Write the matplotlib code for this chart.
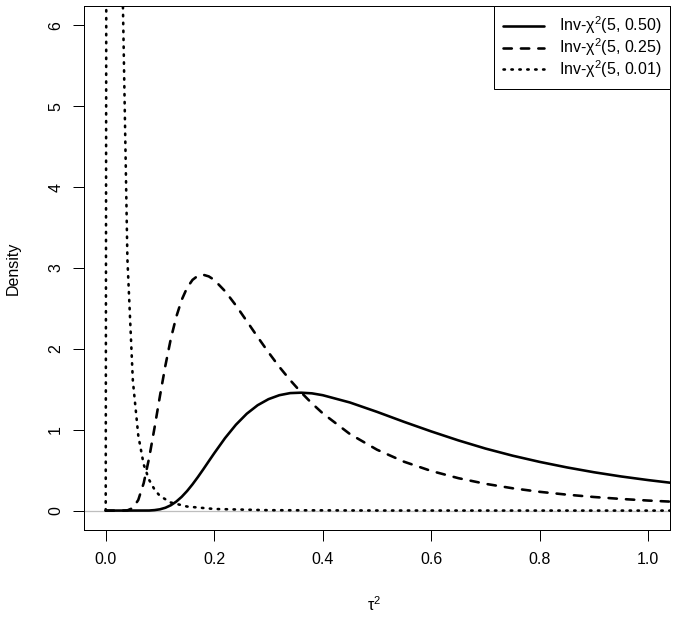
import matplotlib
matplotlib.use("Agg")
import matplotlib.pyplot as plt

plt.rcParams['font.family'] = ['Liberation Sans', 'DejaVu Sans']
plt.rcParams['mathtext.fontset'] = 'custom'
plt.rcParams['mathtext.rm'] = 'Liberation Sans'
plt.rcParams['mathtext.it'] = 'Liberation Sans:italic'
plt.rcParams['mathtext.bf'] = 'Liberation Sans:bold'

# values
x_050 = [0.00, 0.08, 0.09, 0.10, 0.11, 0.12, 0.13, 0.14, 0.15, 0.16, 0.17, 0.18,
         0.19, 0.20, 0.22, 0.24, 0.26, 0.28, 0.30, 0.32, 0.34, 0.36, 0.38, 0.40,
         0.45, 0.50, 0.55, 0.60, 0.65, 0.70, 0.75, 0.80, 0.85, 0.90, 0.95, 1.00, 1.05]
y_050 = [0.000, 0.001, 0.006, 0.016, 0.035, 0.066, 0.111, 0.170, 0.242, 0.325, 0.416, 0.512,
         0.611, 0.709, 0.897, 1.062, 1.198, 1.303, 1.378, 1.427, 1.453, 1.458, 1.450, 1.427,
         1.337, 1.221, 1.097, 0.979, 0.868, 0.767, 0.679, 0.602, 0.534, 0.474, 0.422, 0.377, 0.337]

x_025 = [0.00, 0.03, 0.04, 0.05, 0.06, 0.07, 0.08, 0.09, 0.10, 0.11, 0.12, 0.13, 0.14,
         0.15, 0.16, 0.17, 0.18, 0.19, 0.20, 0.22, 0.24, 0.26, 0.28, 0.30, 0.32, 0.34,
         0.36, 0.38, 0.40, 0.45, 0.50, 0.55, 0.60, 0.65, 0.70, 0.75, 0.80, 0.85, 0.90,
         0.95, 1.00, 1.05]
y_025 = [0.000, 0.000, 0.003, 0.031, 0.131, 0.339, 0.649, 1.025, 1.418, 1.793, 2.124, 2.395, 2.605,
         2.756, 2.853, 2.905, 2.916, 2.896, 2.853, 2.713, 2.537, 2.343, 2.147, 1.957, 1.777, 1.613,
         1.463, 1.326, 1.203, 0.947, 0.753, 0.604, 0.490, 0.401, 0.331, 0.276, 0.232, 0.197, 0.168,
         0.144, 0.124, 0.108]

x_001 = [0.00, 0.01, 0.02, 0.03, 0.04, 0.05, 0.06, 0.07, 0.08, 0.09, 0.10,
         0.12, 0.15, 0.20, 0.30, 0.50, 1.05]
y_001 = [0.0, 61.0, 18.8, 6.90, 3.11, 1.61, 0.93, 0.57, 0.38, 0.26, 0.18,
         0.10, 0.05, 0.02, 0.005, 0.001, 0.0]

labels = ["Inv-χ$^2$(5, 0.50)", "Inv-χ$^2$(5, 0.25)", "Inv-χ$^2$(5, 0.01)"]
x_ticks = [0.0, 0.2, 0.4, 0.6, 0.8, 1.0]
y_ticks = [0, 1, 2, 3, 4, 5, 6]

W, H = 676, 618
fig = plt.figure(figsize=(W / 100, H / 100), dpi=100)
ax = fig.add_axes([84 / W, 1 - 530 / H, 586 / W, 524 / H])

lw = 1.87
ax.axhline(0, color="#BEBEBE", lw=0.9, zorder=1)
ax.plot(x_050, y_050, color="black", lw=lw, ls="-", solid_capstyle="round",
        solid_joinstyle="round", label=labels[0])
ax.plot(x_025, y_025, color="black", lw=lw, ls=(0, (3.2, 3.5)), dash_capstyle="round",
        dash_joinstyle="round", label=labels[1])
ax.plot(x_001, y_001, color="black", lw=lw, ls=(0, (0.55, 2.5)), dash_capstyle="round",
        dash_joinstyle="round", label=labels[2])

ax.set_xlim(-0.04, 1.04)
ax.set_ylim(-0.24, 6.24)
ax.set_xticks(x_ticks)
ax.set_xticklabels([f"{v:.1f}" for v in x_ticks])
ax.set_yticks(y_ticks)
ax.set_yticklabels([str(v) for v in y_ticks], rotation=90, va="center")

fs = 11.5
ax.tick_params(axis="both", direction="out", length=8, width=0.72,
               labelsize=fs, colors="black")
ax.tick_params(axis="x", pad=8)
ax.tick_params(axis="y", pad=7)
for s in ax.spines.values():
    s.set_linewidth(0.72)
    s.set_color("black")

fig.text(374 / W, 1 - 605 / H, "τ$^2$", fontsize=fs, ha="center", va="center")
fig.text(13 / W, 1 - 268 / H, "Density", fontsize=fs, ha="center", va="center",
         rotation=90)

leg = ax.legend(loc="upper right", borderaxespad=0, fontsize=fs, fancybox=False,
                framealpha=1, edgecolor="black", handlelength=2.6,
                handletextpad=0.9, labelspacing=0.0, borderpad=0.55)
leg.get_frame().set_linewidth(0.72)

fig.savefig("out.png", dpi=100, facecolor="white")
